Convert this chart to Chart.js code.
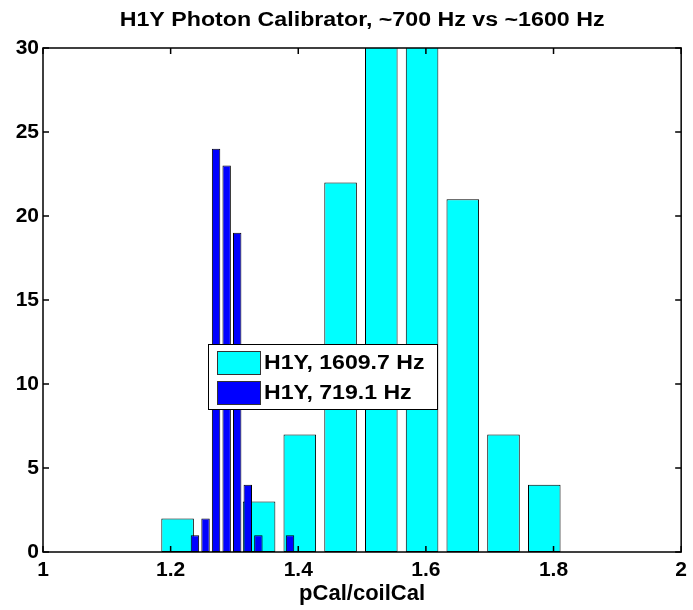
<!DOCTYPE html>
<html>
<head>
<meta charset="utf-8">
<script src="https://cdn.jsdelivr.net/npm/chart.js@4/dist/chart.umd.min.js"></script>
<style>
    html, body { margin: 0; padding: 0; background: #fff; }
    #wrap { width: 693px; height: 610px; }
</style>
</head>
<body>
<div id="wrap"><canvas id="myChart"></canvas></div>
<script>
// dados
const titulo = 'H1Y Photon Calibrator, ~700 Hz vs ~1600 Hz';
const rotuloX = 'pCal/coilCal';

// 1609.7 Hz (ciano) - centros dos bins e contagens
const centros1600 = [1.2109, 1.2748, 1.3386, 1.4024, 1.4663, 1.5301, 1.594, 1.6578, 1.7216, 1.7855];
const contagem1600 = [2, 0, 3, 7, 22, 33, 32, 21, 7, 4];

// 719.1 Hz (azul)
const centros700 = [1.2381, 1.2547, 1.2712, 1.2878, 1.3043, 1.3209, 1.3375, 1.354, 1.3706, 1.3871];
const contagem700 = [1, 2, 24, 23, 19, 4, 1, 0, 0, 1];

const ticksX = [1, 1.2, 1.4, 1.6, 1.8, 2];
const ticksY = [0, 5, 10, 15, 20, 25, 30];

const legendas = ['H1Y, 1609.7 Hz', 'H1Y, 719.1 Hz'];
const cores = ['#00ffff', '#0000ff'];

const fonte = "'Liberation Sans', Arial, sans-serif";

function pontos(xs, ys) {
    return xs.map((x, i) => ({ x: x, y: ys[i] }));
}

// texto um pouco "esticado" na horizontal, como no original
function textoLargo(ctx, txt, x, y, escala) {
    ctx.save();
    ctx.translate(x, y);
    ctx.scale(escala, 1);
    ctx.fillText(txt, 0, 0);
    ctx.restore();
}

// Caixa estilo MATLAB, ticks para dentro, título e legenda
const matlabBox = {
    id: 'matlabBox',
    afterDraw(chart) {
        const ctx = chart.ctx;
        const a = chart.chartArea;
        const sx = chart.scales.x;
        const sy = chart.scales.y;
        ctx.save();
        ctx.strokeStyle = '#000';
        ctx.lineWidth = 1.5;
        ctx.strokeRect(a.left, a.top, a.right - a.left, a.bottom - a.top);
        ctx.beginPath();
        ticksX.forEach(v => {
            const px = sx.getPixelForValue(v);
            ctx.moveTo(px, a.bottom); ctx.lineTo(px, a.bottom - 6);
            ctx.moveTo(px, a.top); ctx.lineTo(px, a.top + 6);
        });
        ticksY.forEach(v => {
            const py = sy.getPixelForValue(v);
            ctx.moveTo(a.left, py); ctx.lineTo(a.left + 6, py);
            ctx.moveTo(a.right, py); ctx.lineTo(a.right - 6, py);
        });
        ctx.stroke();

        // título
        ctx.fillStyle = '#000';
        ctx.font = 'bold 20px ' + fonte;
        ctx.textAlign = 'center';
        ctx.textBaseline = 'middle';
        textoLargo(ctx, titulo, (a.left + a.right) / 2, 20, 1.16);

        // legenda
        const lx = a.left + 165, ly = a.top + 296, lw = 229, lh = 65;
        ctx.fillStyle = '#fff';
        ctx.fillRect(lx, ly, lw, lh);
        ctx.strokeStyle = '#000';
        ctx.lineWidth = 1;
        ctx.strokeRect(lx + 0.5, ly + 0.5, lw, lh);
        ctx.font = 'bold 21px ' + fonte;
        ctx.textAlign = 'left';
        legendas.forEach((txt, i) => {
            const y0 = ly + 7 + i * 30;
            ctx.fillStyle = cores[i];
            ctx.fillRect(lx + 9, y0, 43, 23);
            ctx.strokeStyle = '#333';
            ctx.strokeRect(lx + 9.5, y0 + 0.5, 43, 23);
            ctx.fillStyle = '#000';
            textoLargo(ctx, txt, lx + 56, y0 + 12, 1.1);
        });
        ctx.restore();
    }
};

const ctx = document.getElementById('myChart').getContext('2d');

const graph = new Chart(ctx, {
    type: 'bar',
    data: {
        datasets: [{
            label: legendas[0],
            data: pontos(centros1600, contagem1600),
            xAxisID: 'x',
            backgroundColor: cores[0],
            borderColor: '#000',
            borderWidth: 1,
            borderSkipped: false,
            grouped: false,
            barPercentage: 0.8,
            categoryPercentage: 1,
            clip: 0,
            order: 1
        },
        {
            label: legendas[1],
            data: pontos(centros700, contagem700),
            xAxisID: 'x2',
            backgroundColor: cores[1],
            borderColor: '#000',
            borderWidth: 1,
            borderSkipped: false,
            grouped: false,
            barPercentage: 0.8,
            categoryPercentage: 1,
            clip: 0,
            order: 0
        }]
    },
    options: {
        responsive: true,
        maintainAspectRatio: false,
        animation: false,
        devicePixelRatio: 1,
        layout: {
            padding: { top: 48, right: 10, left: 0, bottom: 0 }
        },
        plugins: {
            legend: { display: false },
            title: { display: false },
            tooltip: { enabled: false }
        },
        scales: {
            x: {
                type: 'linear',
                min: 1,
                max: 2,
                offset: false,
                grid: { display: false, drawTicks: false, offset: false },
                border: { display: false },
                afterBuildTicks: (scale) => {
                    scale.ticks = ticksX.map(v => ({ value: v }));
                },
                ticks: {
                    color: '#000',
                    padding: 6,
                    maxRotation: 0,
                    font: { family: fonte, size: 21, weight: 'bold' },
                    callback: (v) => String(v)
                },
                title: {
                    display: true,
                    text: rotuloX,
                    color: '#000',
                    padding: { top: 0, bottom: 3 },
                    font: { family: fonte, size: 22, weight: 'bold' }
                },
                afterFit: (scale) => { scale.height = 58; }
            },
            x2: {
                type: 'linear',
                display: false,
                min: 1,
                max: 2,
                offset: false,
                grid: { offset: false }
            },
            y: {
                min: 0,
                max: 30,
                grid: { display: false, drawTicks: false },
                border: { display: false },
                afterBuildTicks: (scale) => {
                    scale.ticks = ticksY.map(v => ({ value: v }));
                },
                ticks: {
                    color: '#000',
                    padding: 4,
                    font: { family: fonte, size: 21, weight: 'bold' }
                },
                afterFit: (scale) => { scale.width = 43; }
            }
        }
    },
    plugins: [matlabBox]
});
</script>
</body>
</html>
